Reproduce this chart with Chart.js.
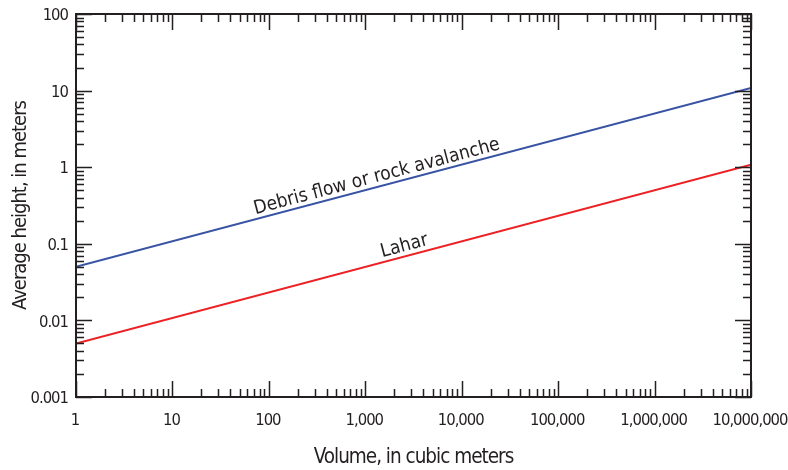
<!DOCTYPE html>
<html>
<head>
<meta charset="utf-8">
<script src="https://cdn.jsdelivr.net/npm/chart.js@4/dist/chart.umd.min.js"></script>
<style>
  html, body { margin: 0; padding: 0; background: #fff; }
  #wrap { width: 788px; height: 470px; }
</style>
</head>
<body>
<div id="wrap"><canvas id="myChart"></canvas></div>
<script>
// ----------- data --------------------------------- //
let volume = [1, 10000000];
let debris_height = [0.05, 10.8];
let lahar_height = [0.005, 1.08];

let x_ticks = [1, 10, 100, 1000, 10000, 100000, 1000000, 10000000];
let x_labels = ["1", "10", "100", "1,000", "10,000", "100,000", "1,000,000", "10,000,000"];
let y_ticks = [0.001, 0.01, 0.1, 1, 10, 100];
let y_labels = ["0.001", "0.01", "0.1", "1", "10", "100"];

// where the curve names sit (volume along the line)
let debris_label_at = 1400;
let lahar_label_at = 2700;

let FONT = "'Liberation Sans Narrow', 'DejaVu Sans Condensed', sans-serif";
let BLUE = "#3953a4";
let RED = "#ed2124";
let INK = "#231f20";

// tighter letters on the axis text (the original uses a condensed face)
let squeeze_plugin = {
  id: "squeeze",
  beforeLayout(chart) { chart.ctx.letterSpacing = "-1px"; },
  afterLayout(chart) { chart.ctx.letterSpacing = "0px"; },
  beforeDraw(chart) { chart.ctx.letterSpacing = "-1px"; },
  afterDatasetsDraw(chart) { chart.ctx.letterSpacing = "0px"; }
};

// ----------- frame + inward tick marks ------------ //
let frame_plugin = {
  id: "frame",
  afterDraw(chart) {
    let ctx = chart.ctx;
    let xs = chart.scales.x, ys = chart.scales.y;
    let a = chart.chartArea;
    ctx.save();
    ctx.letterSpacing = "0px";
    ctx.strokeStyle = INK;
    ctx.lineWidth = 1.5;
    ctx.beginPath();
    // x minor/major ticks, bottom and top
    for (let d = 1; d < 1e7; d *= 10) {
      for (let m = 1; m <= 10; m++) {
        let v = d * m;
        let px = Math.round(xs.getPixelForValue(v)) + 0.5;
        let len = (m === 1 || m === 10) ? 16 : 8;
        ctx.moveTo(px, a.bottom); ctx.lineTo(px, a.bottom - len);
        ctx.moveTo(px, a.top); ctx.lineTo(px, a.top + len);
      }
    }
    // y minor/major ticks, left and right
    for (let d = 0.001; d < 99; d *= 10) {
      for (let m = 1; m <= 10; m++) {
        let v = d * m;
        let py = Math.round(ys.getPixelForValue(v)) + 0.5;
        let len = (m === 1 || m === 10) ? 16 : 8;
        ctx.moveTo(a.left, py); ctx.lineTo(a.left + len, py);
        ctx.moveTo(a.right, py); ctx.lineTo(a.right - len, py);
      }
    }
    ctx.stroke();
    ctx.lineWidth = 2;
    ctx.strokeRect(a.left, a.top, a.right - a.left, a.bottom - a.top);

    // curve names, rotated along the lines
    let put = (text, v, series, offset) => {
      let x1 = xs.getPixelForValue(volume[0]), y1 = ys.getPixelForValue(series[0]);
      let x2 = xs.getPixelForValue(volume[1]), y2 = ys.getPixelForValue(series[1]);
      let ang = Math.atan2(y2 - y1, x2 - x1);
      let px = xs.getPixelForValue(v);
      let py = y1 + (px - x1) * (y2 - y1) / (x2 - x1);
      ctx.save();
      ctx.translate(px, py);
      ctx.rotate(ang);
      ctx.fillStyle = INK;
      ctx.font = "19px " + FONT;
      ctx.textAlign = "center";
      ctx.textBaseline = "alphabetic";
      ctx.fillText(text, 0, -offset);
      ctx.restore();
    };
    put("Debris flow or rock avalanche", debris_label_at, debris_height, 5);
    put("Lahar", lahar_label_at, lahar_height, 5);
    ctx.restore();
  }
};

new Chart("myChart", {
  type: "line",
  data: {
    datasets: [
      {
        label: "Debris flow or rock avalanche",
        data: volume.map((v, i) => ({ x: v, y: debris_height[i] })),
        borderColor: BLUE,
        borderWidth: 2,
        pointRadius: 0,
        fill: false
      },
      {
        label: "Lahar",
        data: lahar_height.map((h, i) => ({ x: volume[i], y: h })),
        borderColor: RED,
        borderWidth: 2,
        pointRadius: 0,
        fill: false
      }
    ]
  },
  options: {
    responsive: true,
    maintainAspectRatio: false,
    animation: false,
    layout: { padding: { left: 0, top: 14, right: 37, bottom: 0 } },
    plugins: {
      legend: { display: false },
      tooltip: { enabled: false }
    },
    scales: {
      x: {
        type: "logarithmic",
        min: 1,
        max: 10000000,
        grid: { display: false, drawTicks: false, tickLength: 0 },
        border: { display: false },
        afterBuildTicks: (s) => { s.ticks = x_ticks.map(v => ({ value: v })); },
        afterFit: (s) => { s.height = 73; s.paddingLeft = 0; s.paddingRight = 0; },
        ticks: {
          autoSkip: false,
          maxRotation: 0,
          padding: 14,
          labelOffset: -1,
          color: INK,
          font: { family: FONT, size: 16.5 },
          callback: (v) => { let i = x_ticks.indexOf(v); return i < 0 ? "" : x_labels[i]; }
        },
        title: {
          display: true,
          text: "Volume, in cubic meters",
          color: INK,
          font: { family: FONT, size: 20.5 },
          padding: { top: 0, bottom: 0 }
        }
      },
      y: {
        type: "logarithmic",
        min: 0.001,
        max: 100,
        grid: { display: false, drawTicks: false, tickLength: 0 },
        border: { display: false },
        afterBuildTicks: (s) => { s.ticks = y_ticks.map(v => ({ value: v })); },
        afterFit: (s) => { s.width = 76; s.paddingTop = 0; s.paddingBottom = 0; },
        ticks: {
          autoSkip: false,
          padding: 8,
          labelOffset: 2,
          color: INK,
          font: { family: FONT, size: 16.5 },
          callback: (v) => {
            let i = y_ticks.findIndex(t => Math.abs(t - v) / t < 1e-6);
            return i < 0 ? "" : y_labels[i];
          }
        },
        title: {
          display: true,
          text: "Average height, in meters",
          color: INK,
          font: { family: FONT, size: 20 },
          padding: { top: 9, bottom: 0 }
        }
      }
    }
  },
  plugins: [squeeze_plugin, frame_plugin]
});
</script>
</body>
</html>
